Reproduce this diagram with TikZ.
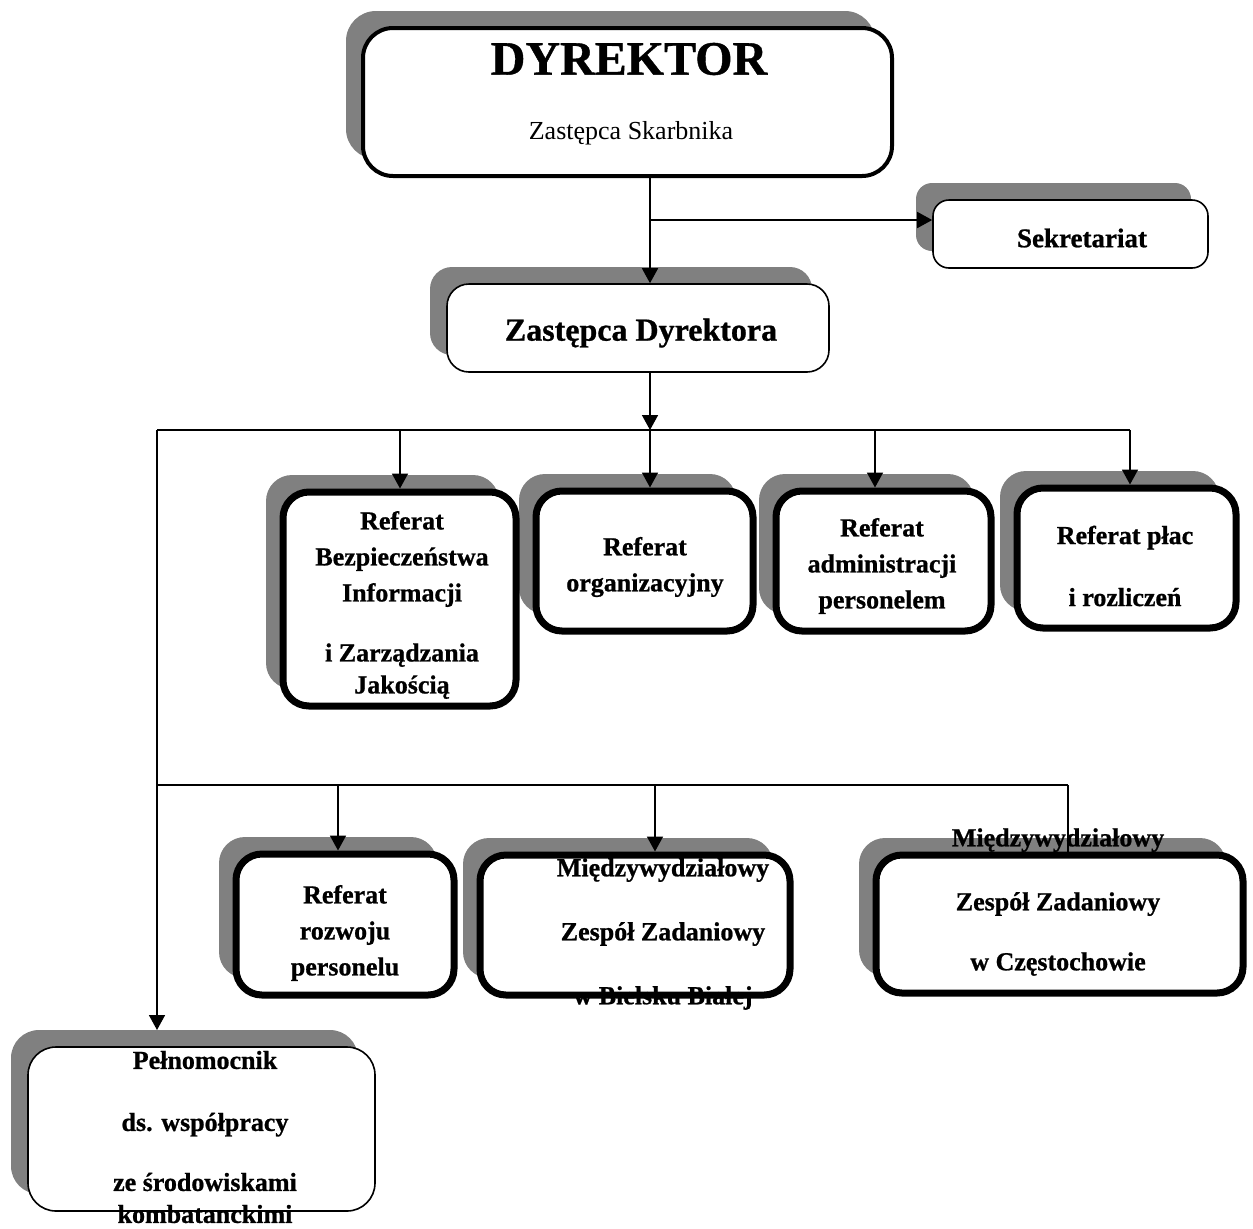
\documentclass[tikz,border=0pt]{standalone}
\usepackage{fontspec}
\setmainfont{Liberation Serif}[BoldFeatures={FakeBold=0.8}]
\usetikzlibrary{shadows,fit,calc,arrows.meta}
\definecolor{shadowgray}{RGB}{128,128,128}
\begin{document}
\begin{tikzpicture}[x=0.5pt,y=-0.5pt,
  shd/.style={general shadow={fill=shadowgray, shadow xshift=-8.5pt, shadow yshift=8.5pt}},
  thinbox/.style={draw, line width=0.8pt, fill=white, rounded corners=10pt, inner sep=0pt, shd},
  thickbox/.style={draw, line width=3.5pt, fill=white, rounded corners=13pt, inner sep=0pt, shd},
  topbox/.style={draw, line width=2pt, fill=white, rounded corners=15pt, inner sep=0pt, shd},
  txt/.style={align=center, inner sep=0pt, font=\bfseries\fontsize{13pt}{18pt}\selectfont},
  arr/.style={line width=0.8pt, -{Triangle[length=7.5pt,width=8pt]}},
  conn/.style={line width=0.8pt}
]
\useasboundingbox (0,0) rectangle (1253,1228);

% top boxes
\node[topbox, fit={(363,28) (892,176)}] (dyr) {};
\node[font=\bfseries\fontsize{24pt}{28pt}\selectfont, inner sep=0pt] (tdyr) at (629,59) {DYREKTOR};
\node[font=\fontsize{13pt}{16pt}\selectfont, inner sep=0pt] (tzs) at (631,133) {Zastępca Skarbnika};

\node[thinbox, rounded corners=8pt, fit={(933,200) (1208,268)}] (sek) {};
\node[txt, font=\bfseries\fontsize{13.5pt}{18pt}\selectfont] (tsek) at (1082,238) {Sekretariat};

\node[thinbox, rounded corners=11pt, fit={(447,284) (829,372)}] (zd) {};
\node[txt, font=\bfseries\fontsize{16pt}{20pt}\selectfont] (tzd) at (641,333) {Zastępca Dyrektora};

% row 1 (drawn right to left)
\node[thickbox, fit={(1017,488) (1236,628)}] (d) {};
\node[thickbox, fit={(776,491) (991,631)}] (c) {};
\node[thickbox, fit={(536,491) (753,631)}] (b) {};
\node[thickbox, fit={(283,492) (516,706)}] (a) {};

\node[txt] (ta) at (402,605) {Referat\\Bezpieczeństwa\\Informacji\\[12pt]i Zarządzania\\[-2pt]Jakością};
\node[txt] (tb) at (645,567) {Referat\\organizacyjny};
\node[txt] (tc) at (882,566) {Referat\\administracji\\personelem};
\node[txt] (td) at (1125,566) {Referat płac\\[13pt]i rozliczeń};

% row 2 (drawn right to left)
\node[thickbox, fit={(876,855) (1243,993)}] (g) {};
\node[thickbox, fit={(480,855) (790,995)}] (f) {};
\node[thickbox, fit={(236,854) (454,995)}] (e) {};

\node[txt] (te) at (345,933) {Referat\\rozwoju\\personelu};
\node[txt] (tf) at (663,934) {Międzywydziałowy\\[14pt]Zespół Zadaniowy\\[14pt]w Bielsku Białej};
\node[txt] (tg) at (1058,902) {Międzywydziałowy\\[14pt]Zespół Zadaniowy\\[12pt]w Częstochowie};

% row 3
\node[thinbox, rounded corners=14pt, fit={(28,1047) (375,1211)}] (h) {};
\node[txt] (th) at (205,1137) {Pełnomocnik\\[13pt]ds. współpracy\\[12pt]ze środowiskami\\[-2pt]kombatanckimi};

% junction coordinates
\coordinate (j1) at (650,220);
\coordinate (j2) at (650,430);
\coordinate (bl) at (157,430);
\coordinate (xa) at (400,430);
\coordinate (xc) at (875,430);
\coordinate (xd) at (1130,430);
\coordinate (bl2) at (157,785);
\coordinate (xe) at (338,785);
\coordinate (xf) at (655,785);
\coordinate (xg) at (1068,785);
\coordinate (ht) at (157,1030);

% connectors
\draw[arr] (dyr.south -| j1) -- (zd.north -| j1);
\draw[arr] (j1) -- (j1 -| sek.west);
\draw[arr] (zd.south -| j2) -- (j2);
\draw[conn] (bl) -- (xd);
\draw[arr] (xa) -- (xa |- a.north);
\draw[arr] (j2) -- (j2 |- b.north);
\draw[arr] (xc) -- (xc |- c.north);
\draw[arr] (xd) -- (xd |- d.north);
\draw[arr] (bl) -- (ht);
\draw[conn] (bl2) -- (xg);
\draw[arr] (xe) -- (xe |- e.north);
\draw[arr] (xf) -- (xf |- f.north);
\draw[conn] (xg) -- (xg |- g.north);
\end{tikzpicture}
\end{document}
